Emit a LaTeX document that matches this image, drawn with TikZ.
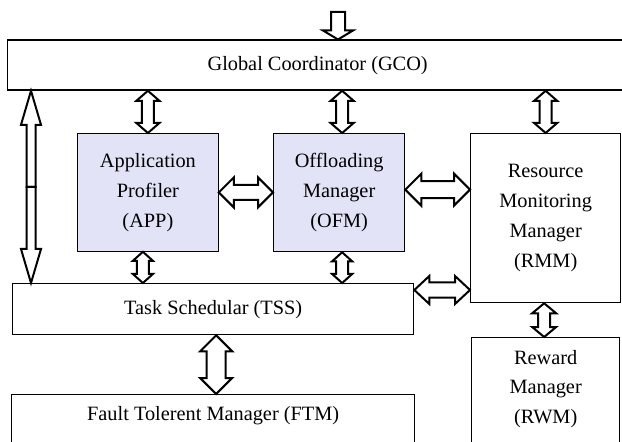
\documentclass[tikz,border=0pt]{standalone}
\usepackage{fontspec}
\setmainfont{Liberation Serif}
\usetikzlibrary{calc}

\definecolor{modfill}{RGB}{227,227,247}

\tikzset{
  box/.style={draw, line width=1.3bp, anchor=north west, inner sep=0pt,
    font=\fontsize{20.4}{30}\selectfont},
  mbox/.style={box, align=center},
  modbox/.style={mbox, fill=modfill},
  hollow/.style={draw, fill=white, line width=2bp, line join=miter}
}

% vertical two-headed hollow arrow: top point, bottom point, half shaft, half head, head length
\newcommand\vdbl[5]{%
  \path[hollow] let \p1=(#1), \p2=(#2) in
    (\x1,\y1) -- (\x1+#4bp,\y1-#5bp) -- (\x1+#3bp,\y1-#5bp) -- (\x1+#3bp,\y2+#5bp)
    -- (\x1+#4bp,\y2+#5bp) -- (\x1,\y2) -- (\x1-#4bp,\y2+#5bp) -- (\x1-#3bp,\y2+#5bp)
    -- (\x1-#3bp,\y1-#5bp) -- (\x1-#4bp,\y1-#5bp) -- cycle;}

% horizontal two-headed hollow arrow: left point, right point, half shaft, half head, head length
\newcommand\hdbl[5]{%
  \path[hollow] let \p1=(#1), \p2=(#2) in
    (\x1,\y1) -- (\x1+#5bp,\y1+#4bp) -- (\x1+#5bp,\y1+#3bp) -- (\x2-#5bp,\y1+#3bp)
    -- (\x2-#5bp,\y1+#4bp) -- (\x2,\y1) -- (\x2-#5bp,\y1-#4bp) -- (\x2-#5bp,\y1-#3bp)
    -- (\x1+#5bp,\y1-#3bp) -- (\x1+#5bp,\y1-#4bp) -- cycle;}

% vertical one-headed hollow arrow: tail point, tip point, half shaft, half head, head length
\newcommand\vone[5]{%
  \path[hollow] let \p1=(#1), \p2=(#2), \n1={sign(\y1-\y2)} in
    (\x1-#3bp,\y1) -- (\x1+#3bp,\y1) -- (\x1+#3bp,\y2+\n1*#5bp) -- (\x1+#4bp,\y2+\n1*#5bp)
    -- (\x1,\y2) -- (\x1-#4bp,\y2+\n1*#5bp) -- (\x1-#3bp,\y2+\n1*#5bp) -- cycle;}

\begin{document}
\begin{tikzpicture}[x=1bp,y=-1bp]
\useasboundingbox (0,0) rectangle (622,442);

% modules
\node[box, minimum width=620bp, minimum height=50bp] (gco) at (7,39.5) {Global Coordinator (GCO)};
\node[modbox, minimum width=140.5bp, minimum height=117.5bp] (app) at (77,133) {Application\\Profiler\\(APP)};
\node[modbox, minimum width=131bp, minimum height=118bp] (ofm) at (273,133) {Offloading\\Manager\\(OFM)};
\node[mbox, minimum width=150bp, minimum height=169bp] (rmm) at (470,133) {Resource\\Monitoring\\Manager\\(RMM)};
\node[box, minimum width=401bp, minimum height=51bp] (tss) at (12,283) {Task Schedular (TSS)};
\node[box, minimum width=403bp, text height=26bp, text depth=30bp] (ftm) at (11,394) {Fault Tolerent Manager (FTM)};
\node[box, minimum width=148bp, text height=55.5bp, text depth=57bp] (rwm) at (471,337)
  {\begin{tabular}{@{}c@{}}Reward\\Manager\\(RWM)\end{tabular}};

% helper points
\coordinate (in) at (338,12);
\coordinate (mid) at (31,187);
\coordinate (ofmtop) at ([xshift=3bp]ofm.north);
\coordinate (ofmbot) at ([xshift=3bp]ofm.south);
\coordinate (appbot) at ([xshift=-5bp]app.south);
\coordinate (ofmright) at ([yshift=3bp]ofm.east);
\coordinate (tssright) at ([yshift=-7bp]tss.north east);
\coordinate (tssbot) at ([xshift=3bp]tss.south);
\coordinate (rmmbot) at ([xshift=-1.5bp]rmm.south);

% connectors
\vone{in}{in |- gco.north}{7}{15}{9}
\vdbl{app.north |- gco.south}{app.north}{6}{11.5}{10}
\vdbl{ofmtop |- gco.south}{ofmtop}{6}{11.5}{10}
\vdbl{rmm.north |- gco.south}{rmm.north}{6}{11.5}{10}
\hdbl{app.east}{app.east -| ofm.west}{7.5}{15}{15}
\hdbl{ofmright}{ofmright -| rmm.west}{8.5}{16}{16}
\vdbl{appbot}{appbot |- tss.north}{6}{10}{9}
\vdbl{ofmbot}{ofmbot |- tss.north}{6}{10}{9}
\hdbl{tssright}{tssright -| rmm.west}{7.5}{14}{15}
\vdbl{tssbot}{tssbot |- ftm.north}{9.5}{16}{16}
\vdbl{rmmbot}{rmmbot |- rwm.north}{6}{12}{10}
\vone{mid}{mid |- gco.south}{4.5}{10}{34}
\vone{mid}{mid |- tss.north}{4.5}{10}{34}
\end{tikzpicture}
\end{document}
